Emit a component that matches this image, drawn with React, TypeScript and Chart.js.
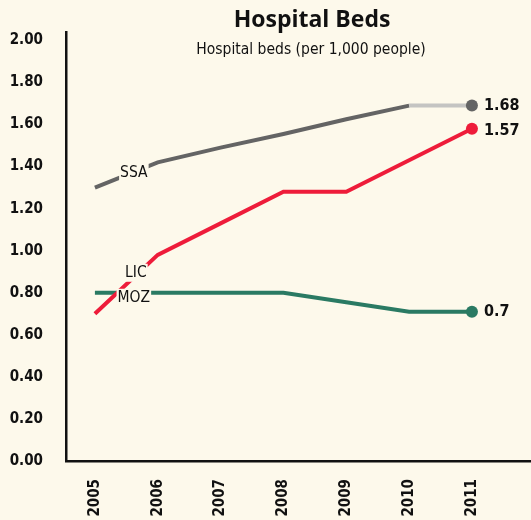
import React, { useEffect, useRef } from "react";
import { Chart, registerables } from "chart.js";

Chart.register(...registerables);

const years = [2005, 2006, 2007, 2008, 2009, 2010, 2011];
const ssa = [1.3, 1.42, 1.49, 1.555, 1.625, 1.69, 1.69];
const lic = [0.7, 0.98, 1.13, 1.28, 1.28, 1.43, 1.58];
const moz = [0.8, 0.8, 0.8, 0.8, 0.755, 0.71, 0.71];
const yTicks = [0, 0.2, 0.4, 0.6, 0.8, 1.0, 1.2, 1.4, 1.6, 1.8, 2.0];
const endLabels = ["1.68", "1.57", "0.7"];
const seriesNames = ["SSA", "LIC", "MOZ"];

const BG = "#fdf9eb";
const COND = '"DejaVu Sans Condensed", "Liberation Sans Narrow", sans-serif';

export default function App() {
  const ref = useRef<HTMLCanvasElement | null>(null);
  useEffect(() => {
    document.body.style.margin = "0";
    const canvas = ref.current!;
    const decor = {
      id: "decor",
      beforeDraw(chart: any) {
        const c = chart.ctx;
        c.save();
        c.fillStyle = BG;
        c.fillRect(0, 0, chart.width, chart.height);
        c.restore();
      },
      afterDatasetsDraw(chart: any) {
        const c = chart.ctx;
        const xs = chart.scales.x;
        const ys = chart.scales.y;
        c.save();
        c.fillStyle = "#111";
        c.textAlign = "center";
        c.textBaseline = "middle";
        c.font = 'bold 23px "Open Sans", sans-serif';
        c.fillText("Hospital Beds", 312, 20);
        c.font = "15.5px " + COND;
        c.fillText("Hospital beds (per 1,000 people)", 311, 50);

        // series name labels
        const lab = (txt: string, x: number, y: number) => {
          c.font = "15.5px " + COND;
          const w = c.measureText(txt).width;
          c.fillStyle = BG;
          c.fillRect(x - w / 2 - 1, y - 9, w + 2, 18);
          c.fillStyle = "#111";
          c.fillText(txt, x, y);
        };
        const x0 = xs.getPixelForValue(years[0]);
        const x1 = xs.getPixelForValue(years[1]);
        const xm = x0 + (x1 - x0) * 0.62;
        lab(seriesNames[0], xm, ys.getPixelForValue(ssa[0] + (ssa[1] - ssa[0]) * 0.62) + 1);
        lab(seriesNames[2], xm, ys.getPixelForValue(moz[1]) + 5);
        lab(seriesNames[1], xm + 2, ys.getPixelForValue(moz[1]) - 20);

        // end labels
        const xl = xs.getPixelForValue(years[6]) + 12;
        c.font = "bold 16px " + COND;
        c.textAlign = "left";
        c.fillStyle = "#111";
        c.fillText(endLabels[0], xl, ys.getPixelForValue(ssa[6]));
        c.fillText(endLabels[1], xl, ys.getPixelForValue(lic[6]) + 2);
        c.fillText(endLabels[2], xl, ys.getPixelForValue(moz[6]));
        c.restore();
      },
    };
    const last = () => years.map((_, i) => (i === years.length - 1 ? 6 : 0));
    const chart = new Chart(canvas, {
      type: "line",
      data: {
        datasets: [
          {
            label: "SSA",
            data: years.map((y, i) => ({ x: y, y: ssa[i] })),
            borderColor: "#646464",
            backgroundColor: "#646464",
            borderWidth: 4,
            pointRadius: last(),
            pointBorderWidth: 0,
            segment: {
              borderColor: (ctx: any) => (ctx.p0DataIndex === 5 ? "#c4c4c2" : "#646464"),
            },
          },
          {
            label: "LIC",
            data: years.map((y, i) => ({ x: y, y: lic[i] })),
            borderColor: "#ee1c3a",
            backgroundColor: "#ee1c3a",
            borderWidth: 4,
            pointRadius: last(),
            pointBorderWidth: 0,
          },
          {
            label: "MOZ",
            data: years.map((y, i) => ({ x: y, y: moz[i] })),
            borderColor: "#2a7a63",
            backgroundColor: "#2a7a63",
            borderWidth: 4,
            pointRadius: last(),
            pointBorderWidth: 0,
          },
        ],
      },
      options: {
        animation: false,
        responsive: false,
        layout: { autoPadding: false, padding: { top: 32, left: 0, right: 0, bottom: 0 } },
        plugins: { legend: { display: false }, tooltip: { enabled: false } },
        scales: {
          x: {
            type: "linear",
            min: 2004.54,
            max: 2011.94,
            afterBuildTicks: (s: any) => {
              s.ticks = years.map((v) => ({ value: v }));
            },
            afterFit: (s: any) => {
              s.height = 59;
              s.paddingLeft = 0;
              s.paddingRight = 0;
            },
            grid: { display: false },
            border: { display: true, color: "#111", width: 2.5 },
            ticks: {
              minRotation: 90,
              maxRotation: 90,
              padding: 10,
              color: "#111",
              font: { family: COND, size: 15, weight: "bold" },
              callback: (v: any) => String(v),
            },
          },
          y: {
            min: 0,
            max: 2.04,
            afterBuildTicks: (s: any) => {
              s.ticks = yTicks.map((v) => ({ value: v }));
            },
            afterFit: (s: any) => {
              s.width = 66;
              s.paddingTop = 0;
              s.paddingBottom = 0;
            },
            grid: { display: false },
            border: { display: true, color: "#111", width: 2.5 },
            ticks: {
              padding: 15,
              color: "#111",
              font: { family: COND, size: 15, weight: "bold" },
              callback: (v: any) => Number(v).toFixed(2),
            },
          },
        },
      },
      plugins: [decor],
    } as any);
    return () => chart.destroy();
  }, []);
  return (
    <div style={{ position: "absolute", left: 0, top: 0, width: 531, height: 520 }}>
      <canvas ref={ref} width={531} height={520} />
    </div>
  );
}
